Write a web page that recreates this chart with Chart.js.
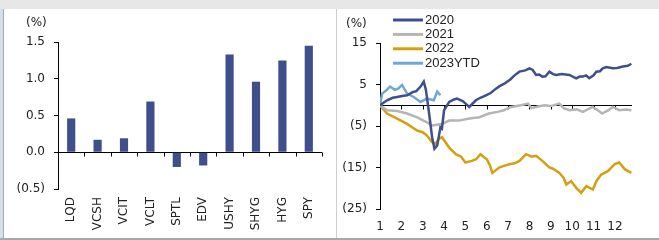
<!DOCTYPE html>
<html>
<head>
<meta charset="utf-8">
<script src="https://cdn.jsdelivr.net/npm/chart.js@4/dist/chart.umd.min.js"></script>
<style>
  html, body { margin: 0; padding: 0; background: #fff; }
  #page { position: relative; width: 659px; height: 240px; overflow: hidden; background: #fff; }
  #topBand { position: absolute; left: 0; top: 0; width: 659px; height: 9px; background: #e7e7e7; }
  #leftStrip { position: absolute; left: 0; top: 9px; width: 3px; height: 231px; background: #d3dfea; border-right: 1px solid #a9a9a9; }
  #divider { position: absolute; left: 336px; top: 9px; width: 1px; height: 229px; background: #cfcfcf; }
  #bottomLine { position: absolute; left: 0; top: 238px; width: 659px; height: 2px; background: #a8a8a8; }
  #barWrap { position: absolute; left: 5px; top: 10px; }
  #lineWrap { position: absolute; left: 338px; top: 10px; }
</style>
</head>
<body>
<div id="page">
  <div id="topBand"></div>
  <div id="leftStrip"></div>
  <div id="divider"></div>
  <div id="bottomLine"></div>
  <div id="barWrap"><canvas id="barChart" width="330" height="227"></canvas></div>
  <div id="lineWrap"><canvas id="lineChart" width="321" height="227"></canvas></div>
</div>
<script>
// left panel: return by fund
const funds = ['LQD', 'VCSH', 'VCIT', 'VCLT', 'SPTL', 'EDV', 'USHY', 'SHYG', 'HYG', 'SPY'];
const fundReturns = [0.46, 0.17, 0.19, 0.69, -0.20, -0.18, 1.33, 0.96, 1.25, 1.45];
const barTicks = [-0.5, 0, 0.5, 1.0, 1.5];

// right panel: cumulative return by month, one line per year
const monthTicks = [1, 2, 3, 4, 5, 6, 7, 8, 9, 10, 11, 12];
const lineTicks = [-25, -15, -5, 5, 15];
const unitLabel = '(%)';

const m2020 = [1.0, 1.33, 1.6, 1.8, 2.1, 2.27, 2.55, 2.7, 2.9, 3.05, 3.15, 3.28, 3.44, 3.55, 3.68, 3.83, 3.9, 4.0, 4.24, 4.47, 4.6, 4.87, 5.05, 5.18, 5.49, 5.7, 5.96, 6.2, 6.43, 6.6, 6.82, 7.1, 7.3, 7.53, 7.8, 8.0, 8.15, 8.31, 8.45, 8.6, 8.75, 8.93, 9.1, 9.25, 9.5, 9.87, 10.19, 10.35, 10.5, 10.65, 10.8, 11.0, 11.13, 11.3, 11.43, 11.6, 11.9, 12.1, 12.37, 12.6, 12.77];
const v2020 = [0, 1.2, 1.8, 2.0, 2.3, 2.4, 3.2, 3.4, 4.5, 5.7, 3.7, -1.2, -7.7, -10.5, -9.7, -5.3, -5.6, -1.2, 0.8, 1.4, 1.6, 1.0, 0.2, -0.4, 1.2, 1.8, 2.4, 3.0, 4.0, 4.6, 5.2, 6.2, 7.2, 8.1, 8.4, 8.9, 8.5, 7.3, 7.4, 6.9, 7.0, 8.1, 7.5, 7.3, 7.5, 7.3, 6.5, 6.9, 6.9, 7.2, 6.5, 7.2, 8.1, 8.2, 8.9, 9.2, 8.9, 9.0, 9.35, 9.5, 10.0];

const m2021 = [1, 1.33, 1.8, 2.27, 2.74, 3.2, 3.44, 3.65, 3.9, 4.24, 4.7, 5.18, 5.65, 6.1, 6.5, 6.8, 7.15, 7.6, 7.93, 8.1, 8.4, 8.7, 9.0, 9.4, 9.6, 9.87, 10.2, 10.5, 10.95, 11.2, 11.4, 11.7, 11.9, 12.2, 12.5, 12.77];
const v2021 = [0, -1.2, -1.4, -2.0, -2.9, -4.1, -4.9, -4.7, -4.5, -3.7, -3.7, -3.2, -2.9, -2.0, -1.6, -1.2, -0.4, 0, 0.4, -0.7, -0.3, 0, -0.2, 0.4, -0.7, -1.2, -1.0, -1.6, -0.4, -1.2, -2.0, -1.2, -0.4, -1.2, -1.0, -1.2];

const m2022 = [1, 1.33, 1.8, 2.27, 2.5, 2.74, 3.0, 3.2, 3.44, 3.6, 3.75, 3.9, 4.24, 4.55, 4.8, 5.0, 5.3, 5.5, 5.7, 6.0, 6.15, 6.26, 6.58, 6.8, 7.06, 7.3, 7.53, 7.84, 8.1, 8.31, 8.6, 8.93, 9.1, 9.4, 9.6, 9.72, 9.95, 10.19, 10.42, 10.66, 10.97, 11.13, 11.36, 11.67, 11.99, 12.2, 12.46, 12.77];
const v2022 = [0, -2.0, -3.2, -4.5, -5.3, -6.1, -6.5, -7.3, -8.9, -9.3, -8.1, -7.7, -10.2, -11.8, -12.4, -13.8, -13.4, -13.0, -11.8, -13.0, -14.5, -16.3, -15.0, -14.6, -14.2, -14.0, -13.4, -11.8, -12.4, -12.2, -13.4, -15.0, -15.3, -16.3, -17.5, -19.1, -18.3, -19.9, -21.1, -19.5, -20.3, -18.3, -16.7, -15.9, -14.2, -13.8, -15.4, -16.3];

const m2023 = [1, 1.1, 1.3, 1.47, 1.7, 1.85, 2.03, 2.27, 2.58, 2.9, 3.2, 3.52, 3.68, 3.83];
const v2023 = [0, 2.8, 3.6, 4.5, 3.7, 4.0, 4.9, 2.8, 2.0, 0.8, 1.6, 1.2, 3.3, 2.4];

document.addEventListener("DOMContentLoaded", function () {
    const tickFont = { family: '"DejaVu Sans"', size: 12 };
    const textColor = '#222';

    function pctLabel(v) {
        if (v === 0) return '';
        return v < 0 ? '(' + Math.abs(v) + ')' : String(v);
    }

    function pts(ms, vs) {
        return ms.map((m, i) => ({ x: m, y: vs[i] }));
    }

    // black line only at zero, nothing for the other ticks
    const zeroColor = c => (c.tick && c.tick.value === 0) ? '#000' : 'rgba(0,0,0,0)';

    // "(%)" above the value axis
    function unitPlugin(x, y) {
        return {
            id: 'unitLabel',
            afterDraw(chart) {
                const c = chart.ctx;
                c.save();
                c.font = '12px "DejaVu Sans"';
                c.fillStyle = textColor;
                c.textBaseline = 'middle';
                c.fillText(unitLabel, x, y);
                c.restore();
            }
        };
    }

    // short tick marks hanging under the zero line
    function zeroTicks(positions) {
        return {
            id: 'zeroTicks',
            beforeDatasetsDraw(chart) {
                const c = chart.ctx;
                const xs = chart.scales.x;
                const y0 = Math.round(chart.scales.y.getPixelForValue(0)) + 0.5;
                c.save();
                c.strokeStyle = '#000';
                c.lineWidth = 1;
                c.beginPath();
                positions(xs).forEach(px => {
                    const x = Math.round(px) + 0.5;
                    c.moveTo(x, y0);
                    c.lineTo(x, y0 + 4);
                });
                c.stroke();
                c.restore();
            }
        };
    }

    // vertical legend in the top-left corner of the line chart
    const lineLegend = {
        id: 'lineLegend',
        afterDraw(chart) {
            const c = chart.ctx;
            c.save();
            c.font = '13px "Liberation Sans"';
            c.textBaseline = 'middle';
            chart.data.datasets.forEach((ds, i) => {
                const y = 10 + i * 14.4;
                c.strokeStyle = ds.borderColor;
                c.lineWidth = 3;
                c.beginPath();
                c.moveTo(55, y);
                c.lineTo(85, y);
                c.stroke();
                c.fillStyle = textColor;
                c.fillText(ds.label, 87, y);
            });
            c.restore();
        }
    };

    new Chart(document.getElementById('barChart').getContext('2d'), {
        type: 'bar',
        data: {
            labels: funds,
            datasets: [{
                data: fundReturns,
                backgroundColor: '#3e4f8b',
                borderWidth: 0,
                barPercentage: 0.31,
                categoryPercentage: 1
            }]
        },
        options: {
            responsive: false,
            animation: false,
            layout: { padding: { left: 0, top: 32, right: 13, bottom: 0 } },
            plugins: { legend: { display: false }, tooltip: { enabled: false } },
            scales: {
                x: {
                    type: 'category',
                    position: 'bottom',
                    grid: { display: false, drawTicks: false },
                    border: { display: false },
                    ticks: { minRotation: 90, maxRotation: 90, autoSkip: false, padding: 8, font: tickFont, color: textColor },
                    afterFit: a => { a.height = 48; }
                },
                y: {
                    min: -0.5,
                    max: 1.5,
                    afterBuildTicks: a => { a.ticks = barTicks.map(v => ({ value: v })); },
                    grid: { drawOnChartArea: true, color: zeroColor, tickColor: '#000', drawTicks: true, tickLength: 4 },
                    border: { display: true, color: '#000' },
                    ticks: {
                        padding: 9, font: tickFont, color: textColor,
                        callback: v => v < 0 ? '(' + Math.abs(v).toFixed(1) + ')' : v.toFixed(1)
                    },
                    afterFit: a => { a.width = 53; }
                }
            }
        },
        plugins: [
            unitPlugin(21, 13),
            zeroTicks(xs => funds.map((f, i) => xs.getPixelForValue(i + 0.5)))
        ]
    });

    const lineStyle = { borderWidth: 2.5, pointRadius: 0, tension: 0, fill: false };

    new Chart(document.getElementById('lineChart').getContext('2d'), {
        type: 'line',
        data: {
            datasets: [
                Object.assign({ label: '2020', data: pts(m2020, v2020), borderColor: '#3e4f8b' }, lineStyle),
                Object.assign({ label: '2021', data: pts(m2021, v2021), borderColor: '#b5b5b5' }, lineStyle),
                Object.assign({ label: '2022', data: pts(m2022, v2022), borderColor: '#d4a012' }, lineStyle),
                Object.assign({ label: '2023YTD', data: pts(m2023, v2023), borderColor: '#6fa7d5' }, lineStyle)
            ]
        },
        options: {
            responsive: false,
            animation: false,
            layout: { padding: { left: 0, top: 33, right: 27, bottom: 0 } },
            plugins: { legend: { display: false }, tooltip: { enabled: false } },
            scales: {
                x: {
                    type: 'linear',
                    min: 1,
                    max: 12.8,
                    position: 'bottom',
                    afterBuildTicks: a => { a.ticks = monthTicks.map(v => ({ value: v })); },
                    grid: { display: false, drawTicks: false },
                    border: { display: false },
                    ticks: { padding: 11, font: tickFont, color: textColor, maxRotation: 0 },
                    afterFit: a => { a.height = 28; }
                },
                y: {
                    min: -25,
                    max: 15,
                    afterBuildTicks: a => { a.ticks = lineTicks.concat([0]).sort((p, q) => p - q).map(v => ({ value: v })); },
                    grid: {
                        drawOnChartArea: true, color: zeroColor, drawTicks: true, tickLength: 4,
                        tickColor: c => (c.tick && c.tick.value === 0) ? 'rgba(0,0,0,0)' : '#000'
                    },
                    border: { display: true, color: '#000' },
                    ticks: { padding: 9, font: tickFont, color: textColor, callback: pctLabel },
                    afterFit: a => { a.width = 42; }
                }
            }
        },
        plugins: [
            unitPlugin(8, 14),
            zeroTicks(xs => monthTicks.slice(1).map(m => xs.getPixelForValue(m))),
            lineLegend
        ]
    });
});
</script>
</body>
</html>
